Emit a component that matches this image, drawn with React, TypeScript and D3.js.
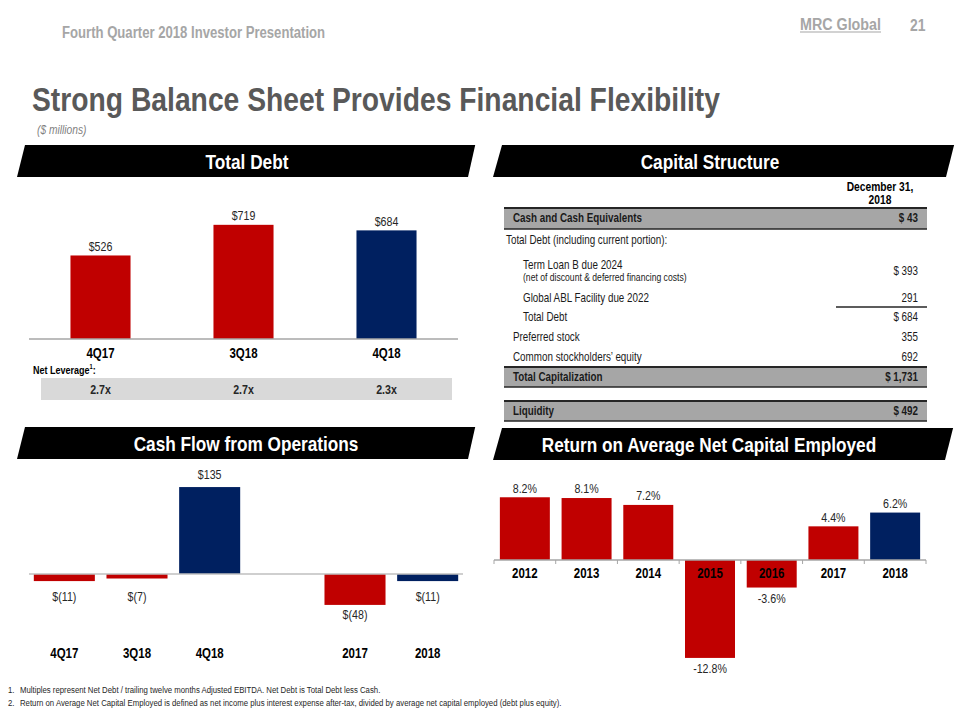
import React from 'react';
import * as d3 from 'd3';

const FONT = "'Liberation Sans',Arial,sans-serif";
const RED = '#c00000';
const NAVY = '#002060';
const NARROW = 0.82;

// Total Debt
const debtCategories = ['4Q17', '3Q18', '4Q18'];
const debtValues = [526, 719, 684];
const debtLabels = ['$526', '$719', '$684'];
const leverageLabels = ['2.7x', '2.7x', '2.3x'];

// Cash Flow from Operations
const cfoCategories = ['4Q17', '3Q18', '4Q18', '2017', '2018'];
const cfoValues = [-11, -7, 135, -48, -11];
const cfoLabels = ['$(11)', '$(7)', '$135', '$(48)', '$(11)'];
const cfoCurrent = ['4Q18', '2018'];

// Return on Average Net Capital Employed
const roanceYears = ['2012', '2013', '2014', '2015', '2016', '2017', '2018'];
const roanceValues = [8.2, 8.1, 7.2, -12.8, -3.6, 4.4, 6.2];

// Capital Structure table
const tableLabels = [
  'Cash and Cash Equivalents',
  'Total Debt (including current portion):',
  'Term Loan B due 2024',
  'Global ABL Facility due 2022',
  'Total Debt',
  'Preferred stock',
  'Common stockholders\u2019 equity',
  'Total Capitalization',
  'Liquidity',
];
const tableValues = ['$ 43', '', '$ 393', '291', '$ 684', '355', '692', '$ 1,731', '$ 492'];
const tableNote = '(net of discount & deferred financing costs)';

const footnotes = [
  'Multiples represent Net Debt / trailing twelve months Adjusted EBITDA. Net Debt is Total Debt less Cash.',
  'Return on Average Net Capital Employed is defined as net income plus interest expense after-tax, divided by average net capital employed (debt plus equity).',
];

// Narrow text: horizontally condensed text (emulates Arial Narrow)
function T({ x, y, sx = NARROW, children, ...rest }: any) {
  return (
    <text transform={`translate(${x},${y}) scale(${sx},1)`} x={0} y={0} dominantBaseline="central" {...rest}>
      {children}
    </text>
  );
}

function Banner({ x0, x1, y0, y1, slant, title, cx }: any) {
  const pts = [
    [x0 + slant, y0],
    [x1 + slant * 0.9, y0],
    [x1, y1],
    [x0, y1],
  ];
  return (
    <g>
      <polygon points={pts.map((p) => p.join(',')).join(' ')} fill="#000" />
      <T x={cx} y={(y0 + y1) / 2 + 1} fill="#fff" fontSize={21} fontWeight="bold" textAnchor="middle">
        {title}
      </T>
    </g>
  );
}

export default function App() {
  const xDebt = d3.scaleBand<string>().domain(debtCategories).range([29, 458]).paddingInner(0.58).paddingOuter(0.29);
  const yDebt = d3.scaleLinear().domain([0, 800]).range([339, 339 - 0.1588 * 800]);

  const cfoSlots = ['4Q17', '3Q18', '4Q18', '__gap', '2017', '2018'];
  const xCfo = d3.scaleBand<string>().domain(cfoSlots).range([28, 464]).paddingInner(0.16).paddingOuter(0.08);
  const yCfo = d3.scaleLinear().domain([-50, 150]).range([574 + 0.644 * 50, 574 - 0.644 * 150]);

  const xRo = d3.scaleBand<string>().domain(roanceYears).range([494, 926]).paddingInner(0.19).paddingOuter(0.095);
  const yRo = d3.scaleLinear().domain([-14, 10]).range([560 + 7.65 * 14, 560 - 7.65 * 10]);

  const rowY = [218, 240, 265, 298, 317, 337, 357, 377, 411];
  const rowX = [513, 506, 523, 523, 523, 513, 513, 513, 513];
  const rowBold = [true, false, false, false, false, false, false, true, true];
  const bands = [
    [208, 229],
    [367, 387],
    [401, 421],
  ];

  return (
    <svg width={960} height={720} style={{ position: 'absolute', left: 0, top: 0, fontFamily: FONT }} viewBox="0 0 960 720">
      <rect x={0} y={0} width={960} height={720} fill="#fff" />
      {/* Header */}
      <T x={62} y={33} fill="#a6a6a6" fontSize={16} fontWeight="bold">
        Fourth Quarter 2018 Investor Presentation
      </T>
      <text x={800} y={24} fill="#a6a6a6" fontSize={16} fontWeight="bold" dominantBaseline="central" textLength={81} lengthAdjust="spacingAndGlyphs">
        MRC Global
      </text>
      <line x1={800} x2={881} y1={32} y2={32} stroke="#a6a6a6" strokeWidth={1.2} />
      <T x={910} y={25} fill="#a6a6a6" fontSize={17} fontWeight="bold">
        21
      </T>

      {/* Title */}
      <text x={32} y={111} fill="#595959" fontSize={34} fontWeight="bold" textLength={688} lengthAdjust="spacingAndGlyphs">
        Strong Balance Sheet Provides Financial Flexibility
      </text>
      <T x={37} y={130} fill="#7f7f7f" fontSize={12.5} fontStyle="italic">
        ($ millions)
      </T>

      {/* Banners */}
      <Banner x0={17} x1={468} y0={145} y1={177} slant={8} title="Total Debt" cx={247} />
      <Banner x0={493} x1={946} y0={145} y1={177} slant={9} title="Capital Structure" cx={710} />
      <Banner x0={17} x1={468} y0={427} y1={459} slant={8} title="Cash Flow from Operations" cx={246} />
      <Banner x0={493} x1={945} y0={428} y1={460} slant={9} title="Return on Average Net Capital Employed" cx={709} />

      {/* Total Debt chart */}
      <g>
        {debtCategories.map((c, i) => (
          <g key={c}>
            <rect
              x={xDebt(c)}
              y={yDebt(debtValues[i])}
              width={xDebt.bandwidth()}
              height={yDebt(0) - yDebt(debtValues[i])}
              fill={i === debtCategories.length - 1 ? NAVY : RED}
            />
            <T x={xDebt(c)! + xDebt.bandwidth() / 2} y={yDebt(debtValues[i]) - 9} fontSize={13} fill="#262626" textAnchor="middle">
              {debtLabels[i]}
            </T>
            <T x={xDebt(c)! + xDebt.bandwidth() / 2} y={353} fontSize={14} fontWeight="bold" fill="#000" textAnchor="middle">
              {c}
            </T>
          </g>
        ))}
        <line x1={29} x2={458} y1={yDebt(0)} y2={yDebt(0)} stroke="#a6a6a6" strokeWidth={1.3} />
        <T x={33} y={370} fontSize={11} fontWeight="bold" fill="#000">
          Net Leverage<tspan fontSize={7} dy={-4}>1</tspan>
          <tspan dy={4}>:</tspan>
        </T>
        <rect x={41} y={378} width={411} height={22} fill="#d9d9d9" />
        {debtCategories.map((c, i) => (
          <T key={c} x={xDebt(c)! + xDebt.bandwidth() / 2} y={389.5} fontSize={13} fontWeight="bold" fill="#262626" textAnchor="middle">
            {leverageLabels[i]}
          </T>
        ))}
      </g>

      {/* Capital structure table */}
      <g>
        <T x={880} y={187} fontSize={12.5} fontWeight="bold" textAnchor="middle" fill="#000">
          December 31,
        </T>
        <T x={880} y={200} fontSize={12.5} fontWeight="bold" textAnchor="middle" fill="#000">
          2018
        </T>
        {bands.map(([a, b], i) => (
          <g key={i}>
            <rect x={504} y={a} width={423} height={b - a} fill="#a6a6a6" />
            <line x1={504} x2={927} y1={a} y2={a} stroke="#262626" strokeWidth={2} />
            <line x1={504} x2={927} y1={b} y2={b} stroke="#262626" strokeWidth={1.5} />
          </g>
        ))}
        <line x1={836} x2={927} y1={307} y2={307} stroke="#262626" strokeWidth={1.5} />
        {tableLabels.map((l, i) => (
          <g key={l}>
            <T x={rowX[i]} y={rowY[i]} fontSize={12} fontWeight={rowBold[i] ? 'bold' : 'normal'} fill="#1a1a1a">
              {l}
            </T>
            <T x={918} y={i === 2 ? 271 : rowY[i]} fontSize={12} fontWeight={rowBold[i] ? 'bold' : 'normal'} fill="#1a1a1a" textAnchor="end">
              {tableValues[i]}
            </T>
          </g>
        ))}
        <T x={523} y={277} fontSize={10.5} fill="#1a1a1a">
          {tableNote}
        </T>
      </g>

      {/* Cash flow chart */}
      <g>
        {cfoCategories.map((c, i) => {
          const v = cfoValues[i];
          const y0 = yCfo(0);
          const yv = yCfo(v);
          const cx = xCfo(c)! + xCfo.bandwidth() / 2;
          const ly = v >= 0 ? yv - 12 : Math.max(yv + 10, y0 + 23);
          return (
            <g key={c}>
              <rect x={xCfo(c)} y={Math.min(y0, yv)} width={xCfo.bandwidth()} height={Math.abs(y0 - yv)} fill={cfoCurrent.includes(c) ? NAVY : RED} />
              <T x={cx} y={ly} fontSize={13} fill="#262626" textAnchor="middle">
                {cfoLabels[i]}
              </T>
              <T x={cx} y={653} fontSize={14} fontWeight="bold" fill="#000" textAnchor="middle">
                {c}
              </T>
            </g>
          );
        })}
        <line x1={29} x2={463} y1={yCfo(0)} y2={yCfo(0)} stroke="#bfbfbf" strokeWidth={1.5} />
      </g>

      {/* ROANCE chart */}
      <g>
        {roanceYears.map((c, i) => {
          const v = roanceValues[i];
          const y0 = yRo(0);
          const yv = yRo(v);
          const cx = xRo(c)! + xRo.bandwidth() / 2;
          const ly = v >= 0 ? yv - 9 : yv + 11;
          return (
            <g key={c}>
              <rect x={xRo(c)} y={Math.min(y0, yv)} width={xRo.bandwidth()} height={Math.abs(y0 - yv)} fill={i === roanceYears.length - 1 ? NAVY : RED} />
              <T x={cx} y={ly} fontSize={13} fill="#262626" textAnchor="middle">
                {`${v.toFixed(1)}%`}
              </T>
            </g>
          );
        })}
        <line x1={494} x2={926} y1={yRo(0)} y2={yRo(0)} stroke="#a6a6a6" strokeWidth={1.3} />
        {roanceYears.concat(['end']).map((c, i) => {
          const x = i < roanceYears.length ? xRo(c)! - (xRo.step() - xRo.bandwidth()) / 2 : 926;
          return <line key={c} x1={x} x2={x} y1={yRo(0)} y2={yRo(0) + 4} stroke="#a6a6a6" strokeWidth={1} />;
        })}
        {roanceYears.map((c) => (
          <T key={c} x={xRo(c)! + xRo.bandwidth() / 2} y={573} fontSize={14} fontWeight="bold" fill="#000" textAnchor="middle">
            {c}
          </T>
        ))}
      </g>

      {/* Footnotes */}
      {footnotes.map((f, i) => (
        <g key={i}>
          <T x={8} y={690 + i * 13} fontSize={9.5} fill="#262626">
            {`${i + 1}.`}
          </T>
          <T x={20} y={690 + i * 13} fontSize={9.5} fill="#262626">
            {f}
          </T>
        </g>
      ))}
    </svg>
  );
}
